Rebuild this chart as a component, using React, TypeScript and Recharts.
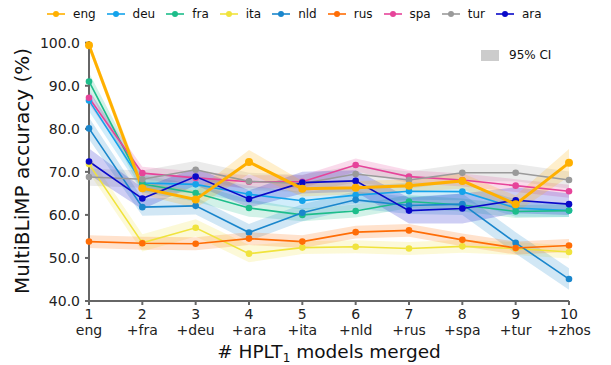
import React from 'react';
import { ComposedChart, Line, Area, XAxis, YAxis } from 'recharts';

const steps = [1, 2, 3, 4, 5, 6, 7, 8, 9, 10];
const stepLabels = ['eng', '+fra', '+deu', '+ara', '+ita', '+nld', '+rus', '+spa', '+tur', '+zhos'];
const yTicks = [40, 50, 60, 70, 80, 90, 100];

const seriesNames = ['eng', 'deu', 'fra', 'ita', 'nld', 'rus', 'spa', 'tur', 'ara'];

const eng = [99.4, 66.2, 63.6, 72.3, 66.1, 66.3, 66.8, 67.9, 62.5, 72.1];
const deu = [86.6, 67.4, 67.1, 64.8, 63.3, 64.6, 65.5, 65.4, 61.6, 61.0];
const fra = [91.0, 67.2, 65.1, 61.6, 60.0, 60.9, 63.1, 62.3, 60.8, 61.0];
const ita = [71.8, 53.5, 57.0, 51.0, 52.4, 52.6, 52.2, 52.7, 52.2, 51.4];
const nld = [80.1, 61.8, 62.1, 55.9, 60.5, 63.5, 62.2, 62.5, 53.5, 45.1];
const rus = [53.8, 53.4, 53.3, 54.5, 53.8, 56.0, 56.4, 54.2, 52.3, 52.9];
const spa = [87.2, 69.7, 68.6, 67.7, 67.7, 71.6, 68.9, 68.1, 66.8, 65.5];
const tur = [68.8, 68.3, 70.5, 67.8, 67.3, 69.5, 68.1, 69.8, 69.8, 68.1];
const ara = [72.4, 63.8, 68.9, 63.7, 67.5, 67.9, 61.0, 61.5, 63.4, 62.5];

const engCi = [1.0, 1.5, 2.0, 2.8, 1.8, 1.5, 1.5, 1.8, 2.0, 3.2];
const deuCi = [2.5, 2.0, 2.0, 2.0, 2.0, 2.0, 2.0, 2.0, 2.0, 1.5];
const fraCi = [2.0, 2.0, 2.0, 2.0, 1.5, 1.5, 1.5, 1.5, 1.5, 1.5];
const itaCi = [2.0, 2.0, 2.0, 2.0, 1.5, 1.5, 1.5, 1.5, 1.5, 1.5];
const nldCi = [2.5, 2.0, 2.0, 2.0, 2.0, 2.0, 2.0, 2.5, 2.5, 2.5];
const rusCi = [1.5, 1.5, 1.5, 1.5, 1.5, 1.5, 1.5, 1.5, 1.5, 1.5];
const spaCi = [1.5, 1.5, 1.5, 1.5, 1.5, 1.5, 1.5, 1.5, 1.5, 1.5];
const turCi = [2.0, 2.0, 2.0, 2.0, 2.0, 2.0, 2.0, 2.0, 2.0, 2.0];
const araCi = [3.0, 2.5, 2.0, 2.0, 2.5, 2.5, 3.0, 3.5, 3.0, 2.5];

const values: Record<string, number[]> = { eng, deu, fra, ita, nld, rus, spa, tur, ara };
const cis: Record<string, number[]> = {
  eng: engCi, deu: deuCi, fra: fraCi, ita: itaCi, nld: nldCi,
  rus: rusCi, spa: spaCi, tur: turCi, ara: araCi,
};

const colors: Record<string, string> = {
  eng: '#ffb000',
  deu: '#14a3eb',
  fra: '#1dbd8a',
  ita: '#f0e33c',
  nld: '#1a86cc',
  rus: '#ff6d06',
  spa: '#e6449a',
  tur: '#9a9a9a',
  ara: '#0909c8',
};

const data = steps.map((s, i) => {
  const row: Record<string, any> = { x: s };
  seriesNames.forEach((n) => {
    row[n] = values[n][i];
    row[n + '_ci'] = [values[n][i] - cis[n][i], values[n][i] + cis[n][i]];
  });
  return row;
});

const FONT = '"DejaVu Sans", sans-serif';
const AXIS = '#666666';

const XTick = (props: any) => {
  const { x, y, payload } = props;
  const idx = steps.indexOf(payload.value);
  return (
    <text x={x} y={y} textAnchor="middle" fontFamily={FONT} fontSize={14} fill="#222">
      <tspan x={x} dy="0.71em">{payload.value}</tspan>
      <tspan x={x} dy={16}>{stepLabels[idx]}</tspan>
    </text>
  );
};

const drawOrder = ['deu', 'fra', 'ita', 'nld', 'rus', 'spa', 'tur', 'ara', 'eng'];

export default function App() {
  return (
    <div style={{ position: 'absolute', left: 0, top: 0, width: 611, height: 365, background: '#fff', fontFamily: FONT }}>
      <ComposedChart width={611} height={365} data={data} margin={{ top: 41, right: 42, bottom: 34, left: 29 }}>
        <XAxis
          type="number"
          dataKey="x"
          domain={[1, 10]}
          ticks={steps}
          interval={0}
          height={30}
          stroke={AXIS}
          strokeWidth={2}
          tickSize={4}
          tickMargin={4}
          tick={<XTick />}
          label={{
            content: (p: any) => {
              const vb = p.viewBox;
              return (
                <text x={vb.x + vb.width / 2} y={358} textAnchor="middle" fontFamily={FONT} fontSize={18.5} fill="#111">
                  <tspan># HPLT</tspan>
                  <tspan fontSize={12} dy={4}>1</tspan>
                  <tspan dy={-4}> models merged</tspan>
                </text>
              );
            },
          }}
        />
        <YAxis
          type="number"
          domain={[40, 100]}
          ticks={yTicks}
          interval={0}
          width={60}
          stroke={AXIS}
          strokeWidth={2}
          tickSize={4}
          tickMargin={5}
          tickFormatter={(v: number) => v.toFixed(1)}
          tick={{ fontFamily: FONT, fontSize: 14, fill: '#222' }}
          label={{
            content: (p: any) => {
              const vb = p.viewBox;
              const cy = vb.y + vb.height / 2;
              return (
                <text x={29} y={cy} transform={`rotate(-90, 29, ${cy})`} textAnchor="middle" fontFamily={FONT} fontSize={20} fill="#111">
                  MultiBLiMP accuracy (%)
                </text>
              );
            },
          }}
        />
        {drawOrder.map((n) => (
          <Area
            key={n + '_band'}
            type="linear"
            dataKey={n + '_ci'}
            stroke="none"
            fill={colors[n]}
            fillOpacity={0.2}
            isAnimationActive={false}
            dot={false}
            activeDot={false}
          />
        ))}
        {drawOrder.map((n) => (
          <Line
            key={n}
            type="linear"
            dataKey={n}
            stroke={colors[n]}
            strokeWidth={n === 'eng' ? 3 : 1.6}
            dot={{ r: n === 'eng' ? 4 : 3.3, fill: colors[n], stroke: colors[n], strokeWidth: 0 }}
            activeDot={false}
            isAnimationActive={false}
          />
        ))}
      </ComposedChart>
      <div style={{ position: 'absolute', left: 47, top: 6, display: 'flex', alignItems: 'center', fontSize: 12, color: '#111', lineHeight: '16px', whiteSpace: 'nowrap' }}>
        {seriesNames.map((n) => (
          <div key={n} style={{ display: 'flex', alignItems: 'center', marginRight: 11 }}>
            <svg width={18} height={10} style={{ marginRight: 8 }}>
              <line x1={0} y1={5} x2={18} y2={5} stroke={colors[n]} strokeWidth={1.6} />
              <circle cx={9} cy={5} r={3} fill={colors[n]} />
            </svg>
            <span>{n}</span>
          </div>
        ))}
      </div>
      <div style={{ position: 'absolute', left: 481, top: 48, display: 'flex', alignItems: 'center', fontSize: 12, color: '#111', lineHeight: '14px' }}>
        <div style={{ width: 18, height: 11, background: '#cccccc', marginRight: 10 }} />
        <span>95% CI</span>
      </div>
    </div>
  );
}
